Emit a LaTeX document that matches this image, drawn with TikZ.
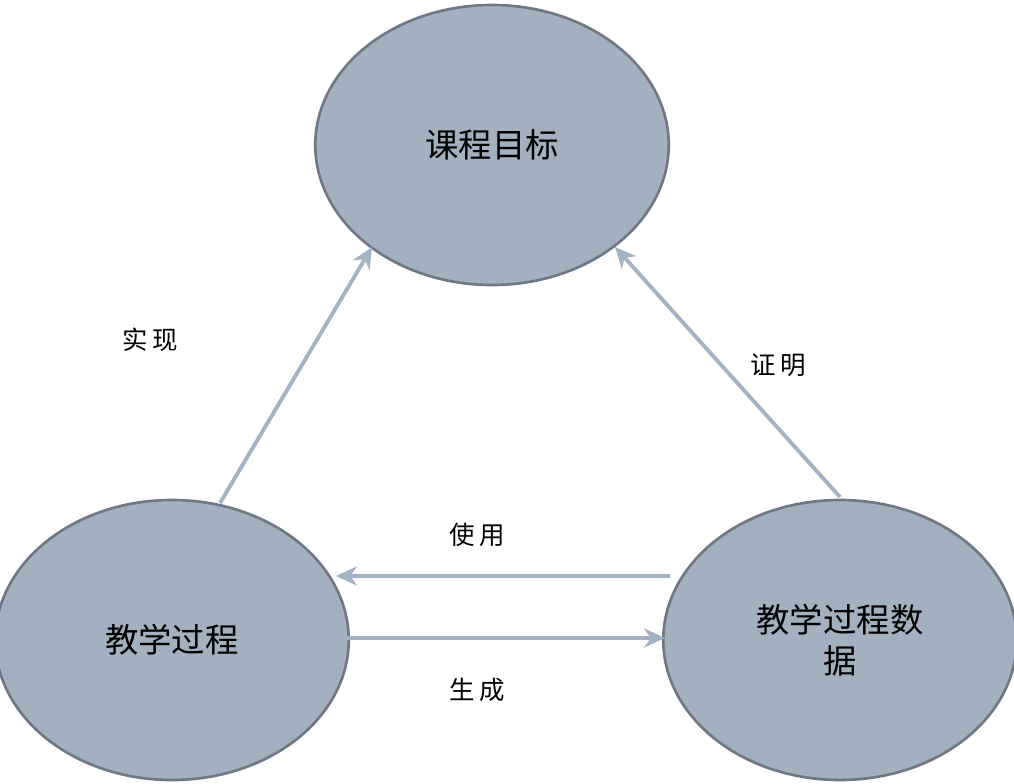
\documentclass[tikz,border=0pt]{standalone}
\usepackage{fontspec}
\newfontfamily\cjk{Noto Sans CJK SC}
\newfontfamily\cjkb[AutoFakeBold=2.5]{Noto Sans CJK SC}
\usetikzlibrary{arrows.meta,shapes.geometric}
\definecolor{efill}{HTML}{A2B0C0}
\definecolor{edraw}{HTML}{6E7884}
\definecolor{arr}{HTML}{A4B3C3}
\begin{document}
\begin{tikzpicture}[x=0.02cm,y=-0.02cm,
  circ/.style={ellipse,draw=edraw,line width=1.5pt,fill=efill,minimum width=344*0.02cm,minimum height=280*0.02cm,inner sep=0pt,font=\cjk\fontsize{19}{23}\selectfont,align=center,text width=5cm},
  conn/.style={draw=arr,line width=2.2pt,-{Stealth[length=12pt,width=11pt]}},
  lab/.style={font=\cjkb\fontsize{14.5}{17}\selectfont}]
\useasboundingbox (0,0) rectangle (1014,784);
\node[circ] (T) at (492,145) {课程目标};
\node[circ] (L) at (172,640) {教学过程};
\node[circ] (R) at (840,640) {教学过程数\\据};
\coordinate (a1) at (220,503); \coordinate (a2) at (372,247);
\coordinate (b1) at (840,497); \coordinate (b2) at (615,247);
\coordinate (c1) at (670,576); \coordinate (c2) at (336,576);
\coordinate (d1) at (347,638); \coordinate (d2) at (665,638);
\draw[conn] (a1) -- (a2);
\draw[conn] (b1) -- (b2);
\draw[conn] (c1) -- (c2);
\draw[conn] (d1) -- (d2);
\node[lab] (l1) at (150,340) {实\,现};
\node[lab] (l2) at (778,365) {证\,明};
\node[lab] (l3) at (477,535) {使\,用};
\node[lab] (l4) at (477,690) {生\,成};
\end{tikzpicture}
\end{document}
